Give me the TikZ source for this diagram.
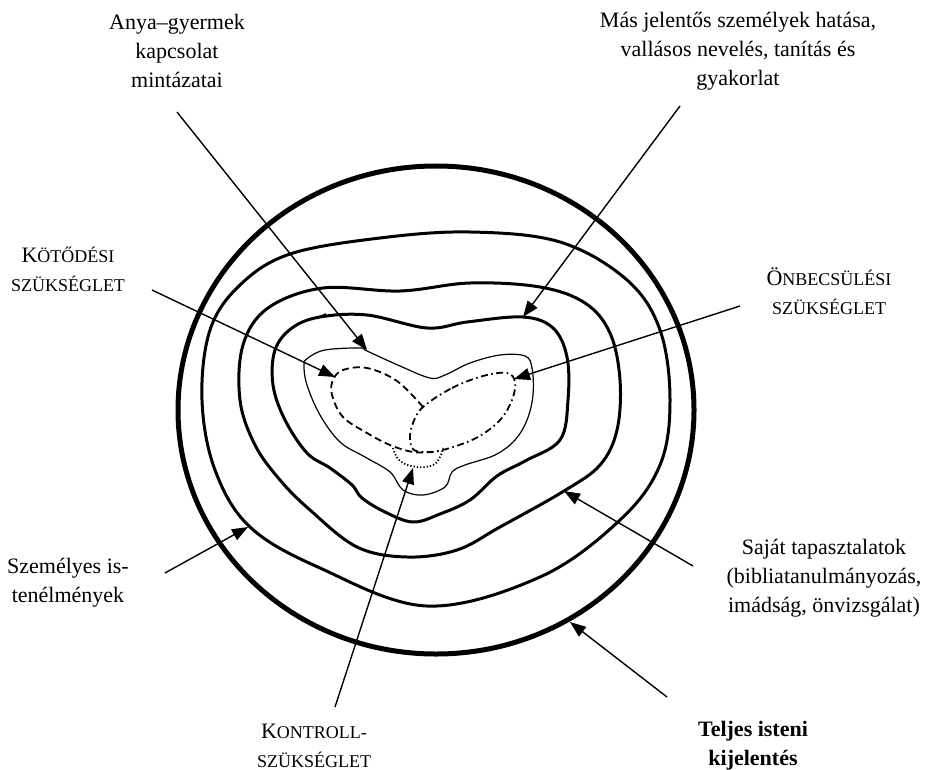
\documentclass[tikz,border=0pt]{standalone}
\usepackage{fontspec}
\setmainfont{Liberation Serif}
\usetikzlibrary{arrows.meta}
\newcommand\smallcap[1]{{\fontsize{18}{29}\selectfont #1}}
\begin{document}
\begin{tikzpicture}[x=1pt,y=-1pt,
  lbl/.style={align=center,inner sep=0pt,font=\fontsize{22}{29}\selectfont},
  arr/.style={line width=1.4pt,-{Triangle[length=16pt,width=12pt]}},
  outerring/.style={line width=5pt},
  ring/.style={line width=3pt,line join=round},
  thinring/.style={line width=1.2pt},
  dashring/.style={line width=1.8pt,dash pattern=on 7pt off 4pt},
  dotdashring/.style={line width=1.8pt,dash pattern=on 7pt off 3.5pt on 1.6pt off 3.5pt},
  dotring/.style={line width=1.8pt,dash pattern=on 1.3pt off 2pt},
]
\useasboundingbox (0,0) rectangle (928,770);

% rings
\draw[outerring] (436,410) ellipse [x radius=258, y radius=244];
\draw[ring] plot[smooth cycle, tension=0.6] coordinates {(470,232) (560,242) (627,280) (660,330) (670,400) (660,465) (620,520) (540,577) (427,606) (320,568) (250,527) (215,470) (202,400) (210,330) (240,285) (290,254) (380,238)};
\draw[ring] plot[smooth cycle, tension=0.6] coordinates {(470,283) (540,287) (585,303) (610,333) (620,380) (617,430) (600,465) (564,491) (500,527) (457,550) (407,557) (357,547) (310,510) (280,480) (255,445) (240,400) (243,345) (268,308) (323,288) (400,291)};
\draw[ring] plot[smooth cycle, tension=0.6] coordinates {(320,317) (367,315) (427,328) (467,322) (523,317) (553,328) (567,357) (568,400) (560,440) (525,461) (497,476) (470,500) (440,514) (413,522) (385,512) (362,498) (352,485) (330,468) (307,453) (285,420) (273,385) (275,350) (292,328)};
\draw[line width=1.6pt] (316,318) -- (326,314);
\draw[thinring] plot[smooth cycle, tension=0.6] coordinates {(308,358) (325,350) (360,348) (367,351) (400,366) (430,378) (445,375) (470,363) (500,355) (525,356) (532,368) (533,395) (527,420) (515,440) (495,455) (465,465) (452,472) (445,487) (423,495) (403,490) (390,472) (365,457) (340,442) (320,415) (307,385) (304,365)};
% inner lobes
\draw[dashring] plot[smooth, tension=0.6] coordinates {(423,407) (397,381) (367,368) (343,370) (333,380) (332,395) (343,417) (367,433) (390,445) (413,452) (433,452)};
\draw[dotdashring] plot[smooth cycle, tension=0.6] coordinates {(423,407) (452,388) (483,376) (507,373) (515,382) (512,400) (500,420) (478,437) (450,448) (430,452) (414,450) (410,438) (413,423)};
\draw[dotring] plot[smooth, tension=0.7] coordinates {(393,448) (400,461) (417,467) (433,465) (440,457) (443,448)};

% labels
\node[lbl] (anya) at (177,51) {Anya–gyermek\\kapcsolat\\mintázatai};
\node[lbl] (mas) at (738,51) {Más jelentős személyek hatása,\\vallásos nevelés, tanítás és\\gyakorlat};
\node[lbl] (kot) at (68,269) {K\smallcap{ÖTŐDÉSI}\\\smallcap{SZÜKSÉGLET}};
\node[lbl] (onb) at (829,291) {Ö\smallcap{NBECSÜLÉSI}\\\smallcap{SZÜKSÉGLET}};
\node[lbl] (szem) at (68,583) {Személyes is-\\tenélmények};
\node[lbl] (sajat) at (824,578) {Saját tapasztalatok\\(bibliatanulmányozás,\\imádság, önvizsgálat)};
\node[lbl] (kontroll) at (314,746) {K\smallcap{ONTROLL-}\\\smallcap{SZÜKSÉGLET}};
\node[lbl,font=\fontsize{22}{29}\selectfont\bfseries] (teljes) at (753,746) {Teljes isteni\\kijelentés};

% arrow ends
\coordinate (anyaS) at (177,112);  \coordinate (anyaT) at (367,350);
\coordinate (masS) at (680,106);   \coordinate (masT) at (523,317);
\coordinate (kotS) at (152,290);   \coordinate (kotT) at (335,377);
\coordinate (onbS) at (740,306);   \coordinate (onbT) at (514,379);
\coordinate (szemS) at (165,573);  \coordinate (szemT) at (248,527);
\coordinate (sajS) at (693,566);   \coordinate (sajT) at (564,491);
\coordinate (konS) at (335,707);   \coordinate (konT) at (413,468);
\coordinate (telS) at (667,697);   \coordinate (telT) at (570,622);

\draw[arr] (anyaS) -- (anyaT);
\draw[arr] (masS) -- (masT);
\draw[arr] (kotS) -- (kotT);
\draw[arr] (onbS) -- (onbT);
\draw[arr] (szemS) -- (szemT);
\draw[arr] (sajS) -- (sajT);
\draw[arr] (konS) -- (konT);
\draw[arr] (telS) -- (telT);
\end{tikzpicture}
\end{document}
